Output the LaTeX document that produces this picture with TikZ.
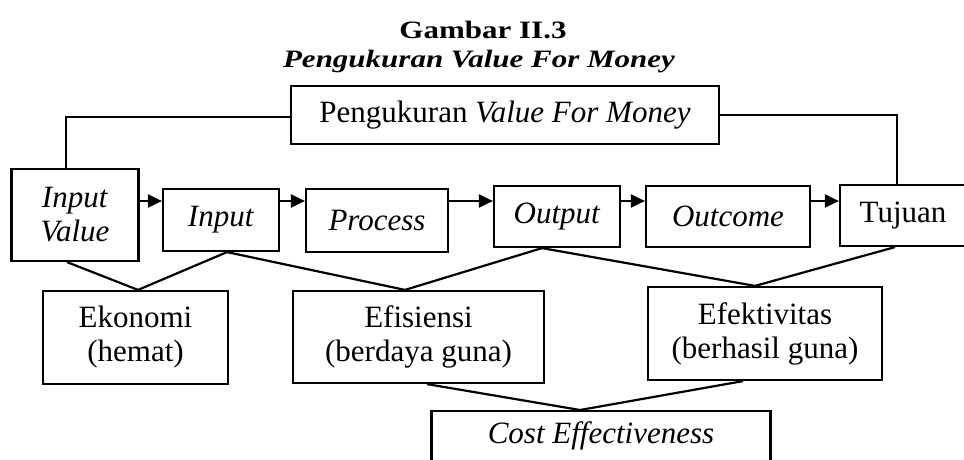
\documentclass[tikz,border=0pt]{standalone}
\usepackage{fontspec}
\setmainfont{Liberation Serif}
\newfontfamily\titlefont[FakeStretch=1.24]{Liberation Serif}
\usetikzlibrary{arrows.meta}
\begin{document}
\begin{tikzpicture}[x=1pt,y=-1pt,
  box/.style={draw, line width=2.2pt, inner sep=0pt, align=center,
    font=\fontsize{31}{34}\selectfont},
  link/.style={line width=2.2pt},
  arr/.style={line width=2.2pt, -{Triangle[length=14pt,width=13pt]}},
  ttl/.style={inner sep=0pt, anchor=base}]
\useasboundingbox (0,0) rectangle (964,460);

% titles
\node[ttl, font=\titlefont\bfseries\fontsize{25}{25}\selectfont] (t1) at (483,39) {Gambar II.3};
\node[ttl, font=\titlefont\bfseries\itshape\fontsize{25}{25}\selectfont] (t2) at (479,67) {Pengukuran Value For Money};

% top box
\node[box, minimum width=428pt, minimum height=58pt] (vfm) at (505,115) {Pengukuran \textit{Value For Money}};

% main row
\node[box, minimum width=127pt, minimum height=92pt] (iv) at (75,215) {\textit{Input}\\\textit{Value}};
\node[box, minimum width=116pt, minimum height=62pt] (in) at (221,220) {\textit{Input}};
\node[box, minimum width=142pt, minimum height=63pt] (pr) at (377,220.5) {\textit{Process}};
\node[box, minimum width=126pt, minimum height=61pt] (out) at (557,216.5) {\textit{Output}};
\node[box, minimum width=164pt, minimum height=61pt] (oc) at (728,216.5) {\textit{Outcome}};
\node[box, minimum width=126pt, minimum height=61pt] (tj) at (903,215.5) {Tujuan};

% lower row
\node[box, minimum width=185pt, minimum height=93pt] (ek) at (135.5,337.5) {Ekonomi\\(hemat)};
\node[box, minimum width=251pt, minimum height=92pt] (ef) at (418.5,337) {Efisiensi\\(berdaya guna)};
\node[box, minimum width=234pt, minimum height=93pt] (efk) at (765,333.5) {Efektivitas\\(berhasil guna)};
\node[box, anchor=north, minimum width=339pt, inner ysep=6pt, text height=26pt, text depth=60pt] (ce) at (601,410) {\textit{Cost Effectiveness}};

% top connectors
\draw[link] ([yshift=-2pt]vfm.west) -| ([xshift=-9pt]iv.north);
\draw[link] (vfm.east) -| ([xshift=-6pt]tj.north);

% arrows
\draw[arr] (iv.east |- 0,201) -- (in.west |- 0,201);
\draw[arr] (in.east |- 0,201) -- (pr.west |- 0,201);
\draw[arr] (pr.east |- 0,201) -- (out.west |- 0,201);
\draw[arr] (out.east |- 0,201) -- (oc.west |- 0,201);
\draw[arr] (oc.east |- 0,201) -- (tj.west |- 0,201);

% lines to lower row
\draw[link] ([xshift=-8pt]iv.south) -- ([xshift=2.5pt]ek.north) -- ([xshift=6pt]in.south)
  -- ([xshift=-13.5pt]ef.north) -- ([xshift=-15pt]out.south)
  -- ([xshift=-10pt]efk.north) -- ([xshift=-8pt]tj.south);
\draw[link] ([xshift=8.5pt]ef.south) -- ([xshift=-21pt]ce.north) -- ([xshift=-22pt]efk.south);
\end{tikzpicture}
\end{document}
